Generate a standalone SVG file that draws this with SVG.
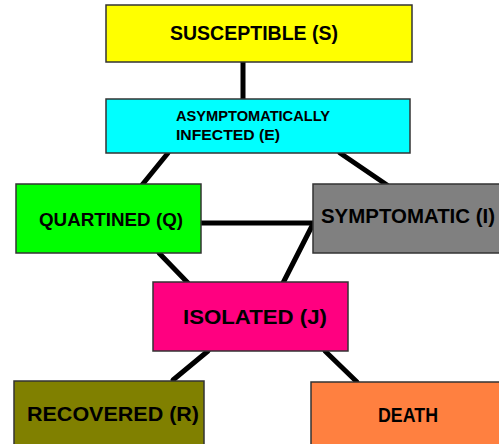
<svg xmlns="http://www.w3.org/2000/svg" width="499" height="444" viewBox="0 0 499 444">
<style>
.box{stroke:#333333;stroke-width:1.5}
.lbl{font-family:"Liberation Sans",Arial,sans-serif;font-weight:bold;fill:#000000}
.c{stroke:#000000;stroke-width:5;stroke-linecap:round;fill:none}
</style>
<rect width="499" height="444" fill="#ffffff"/>
<g id="connectors">
<line class="c" x1="243" y1="62" x2="243" y2="99"/>
<line class="c" x1="168" y1="153" x2="142" y2="185"/>
<line class="c" x1="340" y1="153" x2="387" y2="185"/>
<line class="c" x1="201" y1="223" x2="313" y2="223"/>
<line class="c" x1="313" y1="224" x2="283" y2="283"/>
<line class="c" x1="159" y1="253" x2="188" y2="283"/>
<line class="c" x1="208" y1="351" x2="173" y2="380"/>
<line class="c" x1="325" y1="351" x2="357" y2="382"/>
</g>
<g id="susceptible">
<rect class="box" x="106" y="5" width="306" height="57" fill="#ffff00"/>
<text class="lbl" x="170" y="40" font-size="20" textLength="168" lengthAdjust="spacingAndGlyphs">SUSCEPTIBLE (S)</text>
</g>
<g id="asymptomatic">
<rect class="box" x="106" y="99" width="304" height="54" fill="#00ffff"/>
<text class="lbl" x="176" y="121" font-size="15" textLength="154" lengthAdjust="spacingAndGlyphs">ASYMPTOMATICALLY</text>
<text class="lbl" x="176" y="140" font-size="15" textLength="104" lengthAdjust="spacingAndGlyphs">INFECTED (E)</text>
</g>
<g id="quarantined">
<rect class="box" x="16" y="184" width="185" height="69" fill="#00ff00"/>
<text class="lbl" x="39" y="226" font-size="19" textLength="144" lengthAdjust="spacingAndGlyphs">QUARTINED (Q)</text>
</g>
<g id="symptomatic">
<rect class="box" x="313" y="184" width="200" height="69" fill="#808080"/>
<text class="lbl" x="321" y="223" font-size="20" textLength="174" lengthAdjust="spacingAndGlyphs">SYMPTOMATIC (I)</text>
</g>
<g id="isolated">
<rect class="box" x="153" y="282" width="195" height="69" fill="#ff0080"/>
<text class="lbl" x="183" y="324" font-size="20" textLength="144" lengthAdjust="spacingAndGlyphs">ISOLATED (J)</text>
</g>
<g id="recovered">
<rect class="box" x="14" y="381" width="190" height="80" fill="#808000"/>
<text class="lbl" x="27" y="421" font-size="20" textLength="172" lengthAdjust="spacingAndGlyphs">RECOVERED (R)</text>
</g>
<g id="death">
<rect class="box" x="311" y="382" width="200" height="80" fill="#ff8040"/>
<text class="lbl" x="378" y="422" font-size="20" textLength="60" lengthAdjust="spacingAndGlyphs">DEATH</text>
</g>
</svg>
